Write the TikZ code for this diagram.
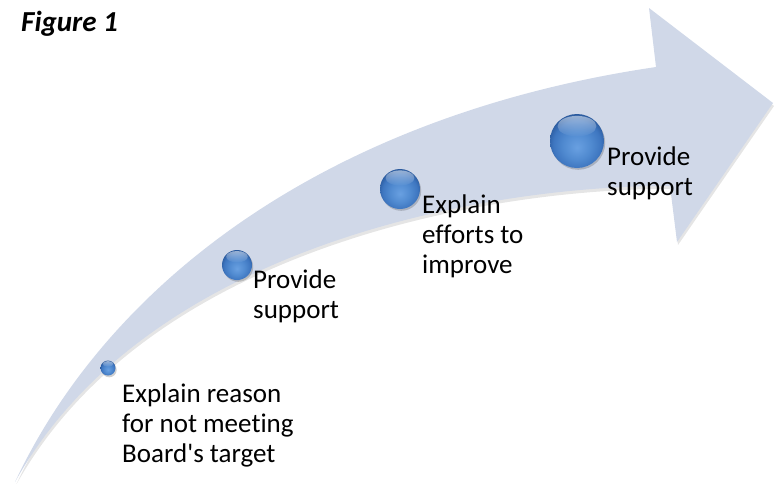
\documentclass[tikz,border=0pt]{standalone}
\usepackage{fontspec}
\setmainfont{Carlito}[Ligatures={NoCommon}]
\usetikzlibrary{shadings,fadings,calc}
\definecolor{arrowfill}{RGB}{208,216,232}
\definecolor{g1}{RGB}{105,160,225}
\definecolor{g2}{RGB}{80,138,208}
\definecolor{g3}{RGB}{62,118,192}
\definecolor{g4}{RGB}{38,84,150}
\pgfdeclareradialshading{gloss}{\pgfpoint{0bp}{-6bp}}{color(0bp)=(g1); color(13bp)=(g2); color(22bp)=(g3); color(29bp)=(g4); color(50bp)=(g4)}
\tikzset{
  ball/.style={circle, inner sep=0pt, shading=gloss},
  ballshadow/.style={black, opacity=0.18},
  hilite/.style={white, opacity=0.5, path fading=south},
  lbl/.style={anchor=base west, inner sep=0pt, font=\fontsize{27}{30}\selectfont, text=black},
}
\newcommand\glossball[3]{%
  \fill[ballshadow] ($(#2)+(1.2,1.8)$) circle (#3);
  \node[ball, minimum size=2*#3] (#1) at (#2) {};
  \fill[hilite] ($(#1.center)+(0,-0.55*#3)$) ellipse ({0.72*#3} and {0.38*#3});
}
\begin{document}
\begin{tikzpicture}[x=1pt,y=-1pt]
\useasboundingbox (0,0) rectangle (775,483);
% shadow
\fill[black, opacity=0.10] (16,485)
  .. controls (111,283) and (331,118) .. (657,70)
  -- (650,11) -- (774,106) -- (678,245) -- (671,189)
  .. controls (501,188) and (151,243) .. (16,485) -- cycle;
% arrow body
\fill[arrowfill] (15,482)
  .. controls (110,280) and (330,115) .. (656,67)
  -- (649,8) -- (773,103) -- (677,242) -- (670,186)
  .. controls (500,185) and (150,240) .. (15,482) -- cycle;
% balls
\glossball{b1}{108,368}{7.5}
\glossball{b2}{237,265}{15}
\glossball{b3}{400,189}{20}
\glossball{b4}{577,141}{27}
% labels
\node[lbl] (t1) at (122,402) {\vtop{\hbox{Explain reason}\hbox{for not meeting}\hbox{Board\textquotesingle s target}}};
\node[lbl] (t2) at (253,288) {\vtop{\hbox{Provide}\hbox{support}}};
\node[lbl] (t3) at (422,213) {\vtop{\hbox{Explain}\hbox{efforts to}\hbox{improve}}};
\node[lbl] (t4) at (607,165) {\vtop{\hbox{Provide}\hbox{support}}};
\node[anchor=base west, inner sep=0pt, font=\fontsize{29}{32}\selectfont\bfseries\itshape] (fig) at (21,31) {Figure 1};
\end{tikzpicture}
\end{document}
